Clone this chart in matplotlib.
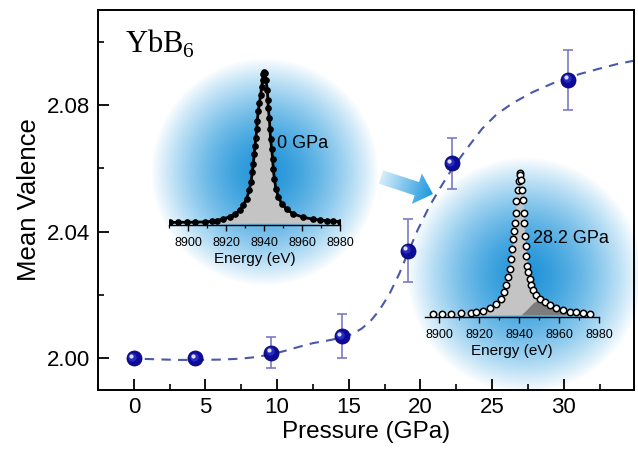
import numpy as np
import matplotlib
matplotlib.use("Agg")
import matplotlib.pyplot as plt
from matplotlib.patches import Polygon
from matplotlib.ticker import MultipleLocator
from matplotlib.transforms import offset_copy

plt.rcParams["font.family"] = ["Liberation Sans", "DejaVu Sans"]

# main panel: mean valence vs pressure
pressure = [0.0, 4.3, 9.6, 14.5, 19.1, 22.2, 30.3]
valence = [2.000, 2.000, 2.0018, 2.007, 2.034, 2.0616, 2.088]
valence_err = [0.0, 0.0, 0.005, 0.007, 0.0099, 0.008, 0.0095]

# dashed guide curve
fit_p = [-0.4, 1.5, 3.0, 4.5, 6.0, 7.5, 8.5, 9.5, 10.5, 11.5, 12.5, 13.5, 14.5,
         15.3, 15.9, 16.5, 17.1, 17.8, 18.5, 19.1, 19.8, 20.6, 21.4, 22.2, 23.2,
         24.3, 25.3, 26.4, 27.8, 29.2, 30.3, 31.2, 32.5, 33.7, 34.9]
fit_v = [2.000, 1.9997, 1.9995, 1.9995, 1.9996, 1.9999, 2.0004, 2.0012, 2.0023,
         2.0036, 2.0048, 2.0056, 2.0065, 2.0078, 2.0094, 2.0117, 2.0150, 2.0200,
         2.0265, 2.0330, 2.0405, 2.0478, 2.0540, 2.0598, 2.0660, 2.0725, 2.0770,
         2.0805, 2.0840, 2.0868, 2.0886, 2.0899, 2.0915, 2.0929, 2.0940]

x_ticks = [0, 5, 10, 15, 20, 25, 30]
y_ticks = [2.00, 2.04, 2.08]

# inset spectra (normalised intensity)
e_0gpa = [8890.4, 8894.7, 8899.1, 8903.5, 8908.8, 8912.5, 8914.9, 8918.4, 8921.9,
          8924.6, 8927.2, 8928.9, 8930.7, 8932.1, 8933.0, 8933.7, 8934.2, 8934.7,
          8935.1, 8935.6, 8936.0, 8936.3, 8936.8, 8937.4, 8938.1, 8938.6, 8939.1,
          8939.5, 8939.9, 8940.4, 8940.9, 8941.6, 8941.9, 8942.1, 8942.6, 8943.0,
          8943.3, 8943.9, 8944.4, 8944.7, 8945.3, 8946.1, 8947.4, 8949.1, 8951.8,
          8955.3, 8960.5, 8965.8, 8969.5, 8972.8, 8976.0, 8979.8]
i_0gpa = [0.005, 0.006, 0.006, 0.007, 0.008, 0.012, 0.017, 0.028, 0.043, 0.061,
          0.087, 0.120, 0.163, 0.217, 0.272, 0.337, 0.391, 0.457, 0.511, 0.565,
          0.620, 0.674, 0.739, 0.793, 0.848, 0.902, 0.946, 0.989, 1.000, 0.990,
          0.946, 0.880, 0.815, 0.761, 0.696, 0.620, 0.554, 0.489, 0.424, 0.359,
          0.293, 0.228, 0.174, 0.130, 0.091, 0.061, 0.039, 0.026, 0.020, 0.017,
          0.013, 0.011]

e_28gpa = [8897.0, 8901.7, 8906.2, 8911.2, 8916.2, 8918.7, 8922.0, 8925.3, 8928.7,
           8930.8, 8932.5, 8933.7, 8934.7, 8935.3, 8935.8, 8936.5, 8937.0, 8937.3,
           8937.8, 8938.3, 8938.7, 8939.5, 8940.0, 8940.3, 8940.7, 8941.2, 8941.7,
           8942.0, 8942.3, 8942.5, 8942.8, 8943.3, 8943.7, 8944.2, 8944.5, 8945.3,
           8946.2, 8947.0, 8948.7, 8950.3, 8952.8, 8955.3, 8958.7, 8962.0, 8965.3,
           8968.7, 8972.0, 8975.3]
i_28gpa = [0.010, 0.010, 0.010, 0.016, 0.014, 0.019, 0.030, 0.046, 0.076, 0.116,
           0.162, 0.208, 0.266, 0.324, 0.394, 0.463, 0.532, 0.590, 0.648, 0.718,
           0.799, 0.880, 0.944, 1.000, 0.985, 0.949, 0.880, 0.810, 0.718, 0.648,
           0.556, 0.486, 0.417, 0.347, 0.301, 0.255, 0.208, 0.174, 0.139, 0.116,
           0.093, 0.069, 0.051, 0.035, 0.023, 0.019, 0.012, 0.009]
# Yb3+ component at 28.2 GPa
e_hump = [8941, 8944, 8947, 8950, 8953, 8956, 8960, 8965, 8968]
i_hump = [0.0, 0.04, 0.085, 0.11, 0.10, 0.075, 0.04, 0.012, 0.0]

W, H = 638, 450
fig = plt.figure(figsize=(W / 100, H / 100), dpi=100)

# background layer in pixel coordinates for the glows and the arrow
bg = fig.add_axes([0, 0, 1, 1], zorder=0)
bg.axis("off")


def glow(cx, cy, r):
    n = 300
    yy, xx = np.mgrid[-1:1:n * 1j, -1:1:n * 1j]
    rr = np.clip(np.hypot(xx, yy), 0, 1)
    inner = np.array([28, 145, 215]) / 255
    outer = np.array([115, 192, 236]) / 255
    img = np.zeros((n, n, 4))
    for k in range(3):
        img[..., k] = inner[k] * (1 - rr) + outer[k] * rr
    img[..., 3] = np.clip(1 - rr ** 2.2, 0, 1) ** 0.9
    bg.imshow(img, extent=(cx - r, cx + r, cy + r, cy - r),
              interpolation="bilinear", aspect="auto")


def fade_arrow(x0, y0, x1, y1, shaft_w, head_w, head_len):
    p0 = np.array([x0, y0], float)
    p1 = np.array([x1, y1], float)
    d = p1 - p0
    L = np.hypot(*d)
    u = d / L
    nrm = np.array([-u[1], u[0]])
    pb = p0 + u * (L - head_len)
    pts = [p0 + nrm * shaft_w / 2, pb + nrm * shaft_w / 2, pb + nrm * head_w / 2, p1,
           pb - nrm * head_w / 2, pb - nrm * shaft_w / 2, p0 - nrm * shaft_w / 2]
    poly = Polygon(pts, closed=True, facecolor="none", edgecolor="none")
    bg.add_patch(poly)
    xa, xb = min(x0, x1) - 25, max(x0, x1) + 25
    ya, yb = min(y0, y1) - 25, max(y0, y1) + 25
    gx, gy = np.meshgrid(np.linspace(xa, xb, 200), np.linspace(ya, yb, 200))
    t = np.clip(((gx - x0) * u[0] + (gy - y0) * u[1]) / L, 0, 1)
    c0 = np.array([215, 238, 250]) / 255
    c1 = np.array([25, 150, 222]) / 255
    img = np.zeros(gx.shape + (4,))
    for k in range(3):
        img[..., k] = c0[k] * (1 - t) + c1[k] * t
    img[..., 3] = 1.0
    im = bg.imshow(img, extent=(xa, xb, yb, ya), interpolation="bilinear", aspect="auto")
    im.set_clip_path(poly)


glow(265, 172, 114)
glow(525, 275, 118)
fade_arrow(381, 177, 433, 194, 14, 32, 17)
bg.set_xlim(0, W)
bg.set_ylim(H, 0)

# main axes
ax = fig.add_axes([98 / W, 1 - 390 / H, (634 - 98) / W, (390 - 10) / H], zorder=1)
ax.patch.set_alpha(0)
ax.plot(fit_p, fit_v, color="#4a58a8", lw=1.5, dashes=(4.5, 3.5), zorder=2)
ax.errorbar(pressure, valence, yerr=valence_err, fmt="none", ecolor="#7b79c4",
            elinewidth=1.2, capsize=3.4, capthick=1.2, zorder=3)
ax.plot(pressure, valence, "o", ms=10.8, color="#0c0c98", mec="#06066e", mew=0.6, zorder=4)
ax.plot(pressure, valence, "o", ms=6, color="#3838d0", mew=0, alpha=0.7, zorder=5,
        transform=offset_copy(ax.transData, fig=fig, x=-1.5, y=1.5, units="dots"))
ax.plot(pressure, valence, "o", ms=3, color="#dcdcff", mew=0, zorder=6,
        transform=offset_copy(ax.transData, fig=fig, x=-2.5, y=2.5, units="dots"))

ax.set_xlim(-2.5, 34.9)
ax.set_ylim(1.99, 2.11)
ax.set_xticks(x_ticks)
ax.set_yticks(y_ticks)
ax.xaxis.set_minor_locator(MultipleLocator(2.5))
ax.yaxis.set_minor_locator(MultipleLocator(0.02))
ax.tick_params(which="major", direction="in", length=8, width=1.3, labelsize=16, pad=6)
ax.tick_params(which="minor", direction="in", length=4.5, width=1.2)
ax.tick_params(axis="x", which="major", pad=5)
for s in ax.spines.values():
    s.set_linewidth(1.4)
ax.set_xlabel("Pressure (GPa)", fontsize=17.5, labelpad=2)
ax.set_ylabel("Mean Valence", fontsize=18.5, labelpad=4)

fig.text(125 / W, 1 - 53 / H, r"YbB$_\mathregular{6}$", family="Liberation Serif",
         fontsize=22, va="baseline", ha="left")


def inset(left, right, base, height, xlo, xhi):
    ia = fig.add_axes([left / W, 1 - base / H, (right - left) / W, height / H], zorder=2)
    ia.patch.set_alpha(0)
    for side in ("top", "left", "right"):
        ia.spines[side].set_visible(False)
    ia.spines["bottom"].set_linewidth(1.0)
    ia.set_xlim(xlo, xhi)
    ia.set_ylim(-0.012, 1.05)
    ia.set_yticks([])
    ia.set_xticks([8900, 8920, 8940, 8960, 8980])
    ia.xaxis.set_minor_locator(MultipleLocator(10))
    ia.tick_params(axis="x", which="major", direction="out", length=4, width=1,
                   labelsize=9, pad=5)
    ia.tick_params(axis="x", which="minor", direction="out", length=2.5, width=0.9)
    ia.set_xlabel("Energy (eV)", fontsize=11, labelpad=2)
    return ia


ins0 = inset(169.3, 340.3, 225, 160.6, 8890, 8980)
ins0.fill_between(e_0gpa, 0, i_0gpa, color="#c4c4c4", lw=0, zorder=2)
ins0.plot(e_0gpa, i_0gpa, color="k", lw=2.0, zorder=3)
ins0.plot(e_0gpa, i_0gpa, "o", ms=3.8, color="k", zorder=4)
ins0.text(8946.5, 0.53, "0 GPa", fontsize=13, ha="left", va="center")

ins1 = inset(425, 599, 316.7, 151, 8893, 8980)
ins1.fill_between(e_28gpa, 0, i_28gpa, color="#c4c4c4", lw=0, zorder=2)
ins1.fill_between(e_hump, 0, i_hump, color="#7d7d7d", lw=0, zorder=2.5)
ins1.plot(e_28gpa, i_28gpa, "o", ms=4.6, mfc="white", mec="k", mew=1.1, zorder=4)
ins1.text(8947.2, 0.54, "28.2 GPa", fontsize=13, ha="left", va="center")

fig.savefig("out.png", dpi=100)
plt.close(fig)
